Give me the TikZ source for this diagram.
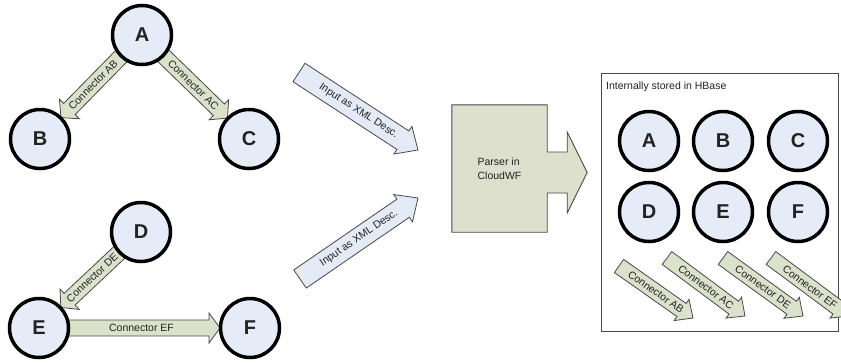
\documentclass[tikz,border=0pt]{standalone}
\usepackage{fontspec}
\setmainfont{Liberation Sans}
\usetikzlibrary{calc,backgrounds}

\definecolor{nodefill}{RGB}{230,236,247}
\definecolor{connfill}{RGB}{220,225,203}
\definecolor{inputfill}{RGB}{228,235,246}
\definecolor{parserfill}{RGB}{221,224,205}
\definecolor{edgegray}{RGB}{72,72,72}
\definecolor{inktext}{RGB}{34,34,34}

% block arrow dimensions: shaft half width, head half width, head length
\def\ashaft{8pt}
\def\ahead{14pt}
\def\alen{12pt}

% #1 style, #2 tail coordinate, #3 tip coordinate, #4 label
\newcommand\blockarrow[4]{%
  \coordinate (ba-h) at ($(#3)!\alen!(#2)$);
  \draw[#1] ($(#2)!\ashaft!90:(#3)$) -- ($(ba-h)!\ashaft!-90:(#2)$)
    -- ($(ba-h)!\ahead!-90:(#2)$) -- (#3) -- ($(ba-h)!\ahead!90:(#2)$)
    -- ($(ba-h)!\ashaft!90:(#2)$) -- ($(#2)!\ashaft!-90:(#3)$) -- cycle;
  \path (#2) -- (#3) node[midway, sloped, inner sep=0pt, text=inktext,
    font=\fontsize{10.5}{12}\selectfont] {#4};
}

\tikzset{
  state/.style={circle, draw=black, line width=3.5pt, fill=nodefill,
    minimum size=59pt, inner sep=0pt, text=inktext,
    font=\fontsize{20}{20}\selectfont\bfseries},
  conn/.style={draw=edgegray, line width=0.8pt, fill=connfill, line join=miter},
  inputarrow/.style={draw=edgegray, line width=0.8pt, fill=inputfill, line join=miter},
  parserbody/.style={draw=edgegray, line width=0.9pt, fill=parserfill, line join=miter},
  parsertext/.style={minimum width=95pt, minimum height=127pt, inner sep=0pt,
    align=left, text=inktext, font=\fontsize{10.5}{14}\selectfont},
  storebox/.style={draw=edgegray, line width=1pt, minimum width=237pt,
    minimum height=258pt, inner sep=0pt},
  plainlabel/.style={text=inktext, inner sep=0pt, font=\fontsize{10.5}{12}\selectfont}
}

\begin{document}
\begin{tikzpicture}[x=1pt, y=-1pt]
\useasboundingbox (0,0) rectangle (841,362);

% first workflow: A -> B, A -> C
\node[state] (A) at (142,35) {A};
\node[state] (B) at (40,139) {B};
\node[state] (C) at (249,139) {C};

% second workflow: D -> E, E -> F
\node[state] (D) at (141,232) {D};
\node[state] (E) at (39,328) {E};
\node[state] (F) at (250,328) {F};

% parser
\node[parsertext] (parser) at (499.5,168.5) {Parser in\\CloudWF};

% storage
\node[storebox] (store) at (719.5,202) {};
\node[plainlabel, anchor=west] (storelabel) at (606,87) {Internally stored in HBase};
\node[state] (hA) at (649,141) {A};
\node[state] (hB) at (723,141) {B};
\node[state] (hC) at (798,141) {C};
\node[state] (hD) at (649,212) {D};
\node[state] (hE) at (723,212) {E};
\node[state] (hF) at (798,212) {F};

% free ends of the input arrows and stored connectors
\coordinate (in1s) at (299,72.5);
\coordinate (in1t) at (418,150);
\coordinate (in2s) at (300,279);
\coordinate (in2t) at (418,198);

\coordinate (s1s) at (619,266);  \coordinate (s1t) at (693,318);
\coordinate (s2s) at (667,258);  \coordinate (s2t) at (745,316);
\coordinate (s3s) at (723,258);  \coordinate (s3t) at (803,316);
\coordinate (s4s) at (771,258);  \coordinate (s4t) at (849,316);

\begin{pgfonlayer}{background}
  % workflow connectors
  \coordinate (ab-s) at ($(A)!24pt!(B)$);
  \coordinate (ab-t) at ($(B)!30pt!(A)$);
  \coordinate (ac-s) at ($(A)!24pt!(C)$);
  \coordinate (ac-t) at ($(C)!30pt!(A)$);
  \coordinate (de-s) at ($(D)!24pt!(E)$);
  \coordinate (de-t) at ($(E)!30pt!(D)$);
  \coordinate (ef-s) at ($(E)!24pt!(F)$);
  \coordinate (ef-t) at ($(F)!30pt!(E)$);
  \blockarrow{conn}{ab-s}{ab-t}{Connector AB}
  \blockarrow{conn}{ac-s}{ac-t}{Connector AC}
  \blockarrow{conn}{de-s}{de-t}{Connector DE}
  \def\ahead{15pt}\def\alen{11pt}
  \blockarrow{conn}{ef-s}{ef-t}{Connector EF}

  % XML descriptions into the parser
  \def\ashaft{11pt}\def\ahead{16.5pt}\def\alen{18pt}
  \blockarrow{inputarrow}{in1s}{in1t}{Input as XML Desc.}
  \blockarrow{inputarrow}{in2s}{in2t}{Input as XML Desc.}

  % parser body with its output arrow
  \draw[parserbody] (parser.north west) -- (parser.north east)
    -- ($(parser.east)+(0,-16.5)$) -- ($(parser.east)+(20,-16.5)$)
    -- ($(parser.east)+(20,-36.5)$) -- ($(parser.east)+(40,4)$)
    -- ($(parser.east)+(20,44.5)$) -- ($(parser.east)+(20,24.5)$)
    -- ($(parser.east)+(0,24.5)$) -- (parser.south east)
    -- (parser.south west) -- cycle;
\end{pgfonlayer}

% stored connectors
\def\ashaft{8pt}\def\ahead{13pt}\def\alen{14pt}
\blockarrow{conn}{s1s}{s1t}{Connector AB}
\blockarrow{conn}{s2s}{s2t}{Connector AC}
\blockarrow{conn}{s3s}{s3t}{Connector DE}
\blockarrow{conn}{s4s}{s4t}{Connector EF}
\end{tikzpicture}
\end{document}
